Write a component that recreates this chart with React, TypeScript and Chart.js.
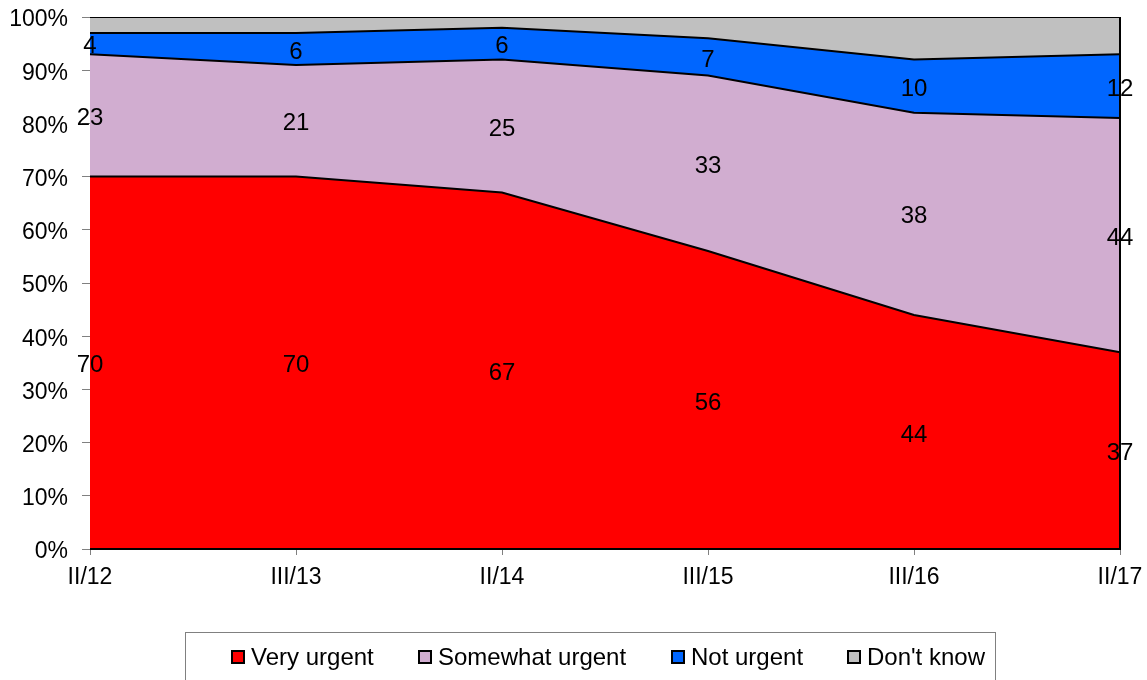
import React, { useEffect, useRef } from "react";
import { Chart, registerables } from "chart.js";

Chart.register(...registerables);

const categories = ["II/12", "III/13", "II/14", "III/15", "III/16", "II/17"];
const veryUrgent = [70, 70, 67, 56, 44, 37];
const somewhatUrgent = [23, 21, 25, 33, 38, 44];
const notUrgent = [4, 6, 6, 7, 10, 12];
const dontKnow = [3, 3, 2, 4, 8, 7];
const seriesNames = ["Very urgent", "Somewhat urgent", "Not urgent", "Don't know"];
const seriesColors = ["#FF0000", "#D1ADD0", "#0066FF", "#C0C0C0"];
const labelledSeries = [true, true, true, false];

const FONT = "'Liberation Sans', Arial, sans-serif";

const labelPlugin = {
  id: "segLabels",
  afterDatasetsDraw(chart: any) {
    const ctx = chart.ctx;
    const y = chart.scales.y;
    const a = chart.chartArea;
    ctx.save();
    ctx.strokeStyle = "#000";
    ctx.lineWidth = 2;
    ctx.beginPath();
    ctx.moveTo(a.right, a.top);
    ctx.lineTo(a.right, a.bottom);
    ctx.lineTo(a.left, a.bottom);
    ctx.stroke();
    ctx.restore();

    ctx.save();
    ctx.font = `24px ${FONT}`;
    ctx.fillStyle = "#000";
    ctx.textAlign = "center";
    ctx.textBaseline = "middle";
    const ds = chart.data.datasets;
    const n = chart.data.labels.length;
    for (let j = 0; j < n; j++) {
      let base = 0;
      for (let i = 0; i < ds.length; i++) {
        const v = ds[i].data[j] as number;
        if (labelledSeries[i]) {
          const pt = chart.getDatasetMeta(i).data[j];
          const py = y.getPixelForValue(base + v / 2);
          ctx.fillText(String(v), pt.x, py + 3);
        }
        base += v;
      }
    }
    ctx.restore();
  },
};

const legendPlugin = {
  id: "boxLegend",
  afterDraw(chart: any) {
    const ctx = chart.ctx;
    ctx.save();
    ctx.strokeStyle = "#808080";
    ctx.lineWidth = 1;
    ctx.strokeRect(185.5, 632.5, 810, 60);
    ctx.font = `24px ${FONT}`;
    ctx.textBaseline = "middle";
    ctx.textAlign = "left";
    const xs = [232, 419, 672, 848];
    const cy = 657;
    seriesNames.forEach((name, i) => {
      const x = xs[i];
      ctx.fillStyle = seriesColors[i];
      ctx.fillRect(x, cy - 6, 12, 12);
      ctx.strokeStyle = "#000";
      ctx.lineWidth = 2;
      ctx.strokeRect(x, cy - 6, 12, 12);
      ctx.fillStyle = "#000";
      ctx.fillText(name, x + 19, cy + 1);
    });
    ctx.restore();
  },
};

export default function App() {
  const ref = useRef<HTMLCanvasElement>(null);
  useEffect(() => {
    if (!ref.current) return;
    const all = [veryUrgent, somewhatUrgent, notUrgent, dontKnow];
    const chart = new Chart(ref.current, {
      type: "line",
      data: {
        labels: categories,
        datasets: all.map((d, i) => ({
          label: seriesNames[i],
          data: d,
          backgroundColor: seriesColors[i],
          borderColor: "#000",
          borderWidth: 2,
          pointRadius: 0,
          tension: 0,
          fill: i === 0 ? "origin" : "-1",
        })),
      },
      options: {
        animation: false,
        responsive: false,
        maintainAspectRatio: false,
        layout: { padding: { top: 17, right: 27, left: 0, bottom: 0 } },
        plugins: { legend: { display: false }, tooltip: { enabled: false } },
        scales: {
          x: {
            type: "category",
            offset: false,
            grid: { display: true, drawOnChartArea: false, color: "#808080", tickLength: 6 },
            border: { color: "#808080", width: 1 },
            ticks: { color: "#000", font: { size: 23, family: FONT }, padding: 9, maxRotation: 0, autoSkip: false },
            afterFit: (s: any) => {
              s.height = 131;
              s.paddingLeft = 0; s.paddingRight = 0; s.paddingTop = 0; s.paddingBottom = 0;
            },
          },
          y: {
            stacked: true,
            min: 0,
            max: 100,
            grid: { display: true, drawOnChartArea: false, color: "#808080", tickLength: 8 },
            border: { color: "#808080", width: 1 },
            ticks: {
              stepSize: 10,
              color: "#000",
              font: { size: 23, family: FONT, lineHeight: 0.26 },
              padding: 14,
              callback: (v: any) => ["", v + "%"],
            },
            afterFit: (s: any) => {
              s.width = 90;
              s.paddingLeft = 0; s.paddingRight = 0; s.paddingTop = 0; s.paddingBottom = 0;
            },
          },
        },
      },
      plugins: [labelPlugin, legendPlugin],
    });
    return () => chart.destroy();
  }, []);
  return (
    <div style={{ position: "fixed", left: 0, top: 0, width: 1147, height: 680, background: "#fff" }}>
      <canvas ref={ref} width={1147} height={680} style={{ width: 1147, height: 680 }} />
    </div>
  );
}
